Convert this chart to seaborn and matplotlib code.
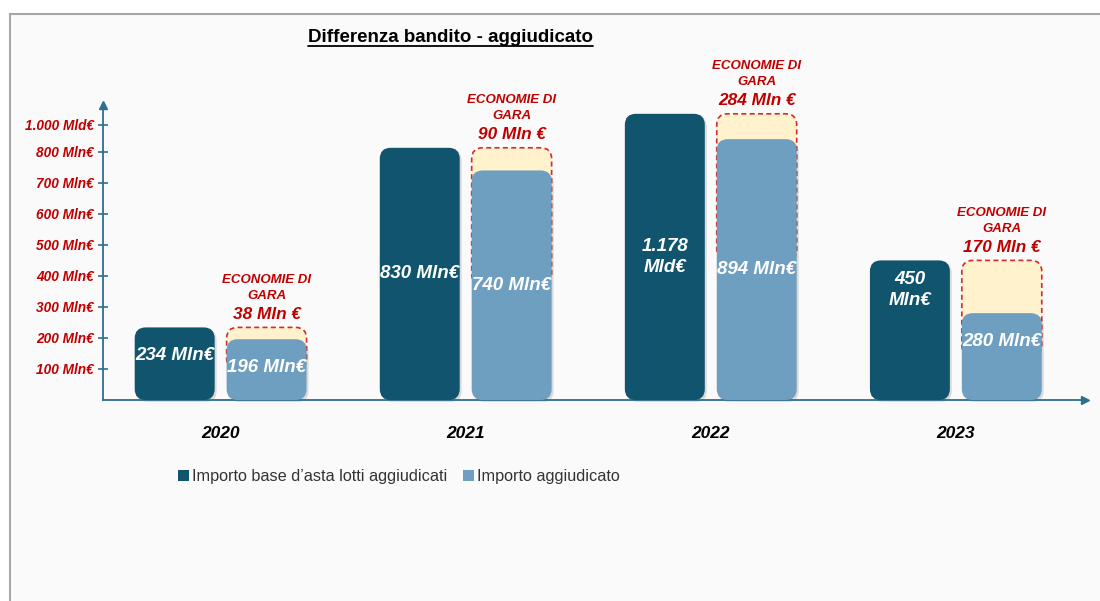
import numpy as np
import pandas as pd
import matplotlib
matplotlib.use("Agg")
import matplotlib.pyplot as plt
import seaborn as sns
from matplotlib.patches import FancyBboxPatch, Patch, Rectangle
from matplotlib.lines import Line2D

# ========== dati ==========
years = ["2020", "2021", "2022", "2023"]
bandito = [234, 830, 1178, 450]          # Importo base d'asta (Mln €)
aggiudicato = [196, 740, 894, 280]       # Importo aggiudicato (Mln €)
bandito_labels = ["234 Mln€", "830 Mln€", "1.178\nMld€", "450\nMln€"]
aggiudicato_labels = ["196 Mln€", "740 Mln€", "894 Mln€", "280 Mln€"]
series_names = ["Importo base d\u2019asta lotti aggiudicati", "Importo aggiudicato"]
ytick_values = [100, 200, 300, 400, 500, 600, 700, 800, 1000]
ytick_labels = ["100 Mln€", "200 Mln€", "300 Mln€", "400 Mln€", "500 Mln€",
                "600 Mln€", "700 Mln€", "800 Mln€", "1.000 Mld€"]

DARK = "#10546E"
LIGHT = "#6E9FC0"
RED = "#C00000"
SAVE_FILL = "#FFF2CC"
AXIS = "#2E6E8E"

W, H = 1100, 601
AX_W, AX_H = 982, 295


# scala compressa sopra 800 (come nell'originale)
def fwd(v):
    v = np.asarray(v, dtype=float)
    return np.where(v <= 800, v,
                    np.where(v <= 1000, 800 + (v - 800) * 0.435, 887 + (v - 1000) * 0.2))


def inv(u):
    u = np.asarray(u, dtype=float)
    return np.where(u <= 800, u,
                    np.where(u <= 887, 800 + (u - 800) / 0.435, 1000 + (u - 887) / 0.2))


sns.set_style("white")
plt.rcParams["font.family"] = ["Liberation Sans", "DejaVu Sans"]

fig = plt.figure(figsize=(W / 100, H / 100), dpi=100)
fig.patch.set_facecolor("white")
fig.add_artist(Rectangle((10 / W, -0.01), 1.1, 1 - 14 / H + 0.01, transform=fig.transFigure,
                         facecolor="#FAFAFA", edgecolor="#A6A6A6", lw=1.5, zorder=0))

ax = fig.add_axes([103 / W, 1 - 400 / H, AX_W / W, AX_H / H])
ax.set_facecolor("none")

df = pd.DataFrame({
    "anno": years * 2,
    "serie": [series_names[0]] * 4 + [series_names[1]] * 4,
    "valore": bandito + aggiudicato,
})
sns.barplot(data=df, x="anno", y="valore", hue="serie", order=years, hue_order=series_names,
            palette=[DARK, LIGHT], saturation=1, width=0.75, gap=0.13, legend=False, ax=ax)

ax.set_yscale("function", functions=(fwd, inv))
ax.set_ylim(0, 1320)
ax.set_xlim(-0.48, 3.527)

to_axes = ax.transData + ax.transAxes.inverted()
R = 11


def rounded(x0, x1, y0, y1, shadow=True, **kw):
    (a0, b0), (a1, b1) = to_axes.transform([(x0, y0), (x1, y1)])
    style = f"round,pad=0,rounding_size={R / AX_W}"
    if shadow:
        ax.add_patch(FancyBboxPatch((a0 + 2 / AX_W, b0 - 2 / AX_H), a1 - a0, b1 - b0,
                                    boxstyle=style, mutation_aspect=AX_W / AX_H,
                                    transform=ax.transAxes, facecolor="black", alpha=0.12,
                                    lw=0, zorder=2.5, clip_on=False))
    ax.add_patch(FancyBboxPatch((a0, b0), a1 - a0, b1 - b0, boxstyle=style,
                                mutation_aspect=AX_W / AX_H, transform=ax.transAxes,
                                clip_on=False, **kw))
    return (a0 + a1) / 2, b0, b1


def bar_label(xc, b0, b1, text):
    h = (b1 - b0) * AX_H
    y_px = max(h / 2, min(h - 28, 110))
    ax.text(xc, b0 + y_px / AX_H, text, transform=ax.transAxes, ha="center", va="center",
            color="white", fontsize=13.5, fontweight="bold", fontstyle="italic",
            linespacing=1.25, zorder=5)


dark_bars, light_bars = ax.containers[0], ax.containers[1]
for i in range(len(years)):
    rd, rl = dark_bars[i], light_bars[i]
    rd.set_visible(False)
    rl.set_visible(False)

    # barra bandito
    xc, b0, b1 = rounded(rd.get_x(), rd.get_x() + rd.get_width(), 0, bandito[i],
                         facecolor=DARK, lw=0, zorder=3)
    bar_label(xc, b0, b1, bandito_labels[i])

    # riquadro economie di gara
    lx0, lx1 = rl.get_x(), rl.get_x() + rl.get_width()
    rounded(lx0, lx1, aggiudicato[i] / 2, bandito[i], shadow=False,
            facecolor=SAVE_FILL, edgecolor="#D42A2A", lw=1.2, linestyle=(0, (3, 2)), zorder=2)

    # barra aggiudicato
    xc, b0, b1 = rounded(lx0, lx1, 0, aggiudicato[i], facecolor=LIGHT, lw=0, zorder=3)
    bar_label(xc, b0, b1, aggiudicato_labels[i])

    saving = bandito[i] - aggiudicato[i]
    xm = (lx0 + lx1) / 2
    ax.annotate(f"{saving} Mln €", xy=(xm, bandito[i]), xytext=(0, 9.5),
                textcoords="offset points", ha="center", va="center", color=RED,
                fontsize=12.4, fontweight="bold", fontstyle="italic", annotation_clip=False)
    ax.annotate("ECONOMIE DI\nGARA", xy=(xm, bandito[i]), xytext=(0, 28.5),
                textcoords="offset points", ha="center", va="center", color=RED,
                fontsize=9.5, fontweight="bold", fontstyle="italic", linespacing=1.4,
                annotation_clip=False)

# assi
ax.set_yticks(ytick_values)
ax.set_yticklabels(ytick_labels, color=RED, fontsize=9.8, fontweight="bold", fontstyle="italic")
ax.yaxis.set_minor_locator(matplotlib.ticker.NullLocator())
ax.tick_params(axis="y", direction="inout", length=7, width=1.2, color=AXIS, pad=3, left=True)
ax.yaxis.get_major_ticks()[-1].tick1line.set_color("#A9C4D2")
ax.set_xticks(range(len(years)))
ax.set_xticklabels(years, fontsize=12.5, fontweight="bold", fontstyle="italic", color="black")
ax.tick_params(axis="x", length=0, pad=19)
ax.set_xlabel("")
ax.set_ylabel("")
for s in ["top", "right"]:
    ax.spines[s].set_visible(False)
for s in ["left", "bottom"]:
    ax.spines[s].set_color(AXIS)
    ax.spines[s].set_linewidth(1.3)
ax.plot(0, 1, marker="^", ms=6, color=AXIS, transform=ax.transAxes, clip_on=False)
ax.plot(1, 0, marker=">", ms=6, color=AXIS, transform=ax.transAxes, clip_on=False)

# legenda
handles = [Patch(facecolor=DARK, edgecolor="none"), Patch(facecolor=LIGHT, edgecolor="none")]
fig.legend(handles, series_names, loc="center left", bbox_to_anchor=(178 / W, 1 - 477 / H),
           ncol=2, frameon=False, fontsize=11.7, handlelength=0.65, handleheight=0.65,
           handletextpad=0.2, columnspacing=1.0, borderaxespad=0, borderpad=0,
           labelcolor="#333333")

# titolo sottolineato
title = fig.text(450 / W, 1 - 38 / H, "Differenza bandito - aggiudicato", ha="center",
                 va="center", fontsize=13.5, fontweight="bold", color="black")
renderer = fig.canvas.get_renderer()
bb = title.get_window_extent(renderer)
fig.add_artist(Line2D([bb.x0 / W, bb.x1 / W], [(bb.y0 + 1) / H, (bb.y0 + 1) / H],
                      transform=fig.transFigure, color="black", lw=1.3))

fig.savefig("out.png", dpi=100)
